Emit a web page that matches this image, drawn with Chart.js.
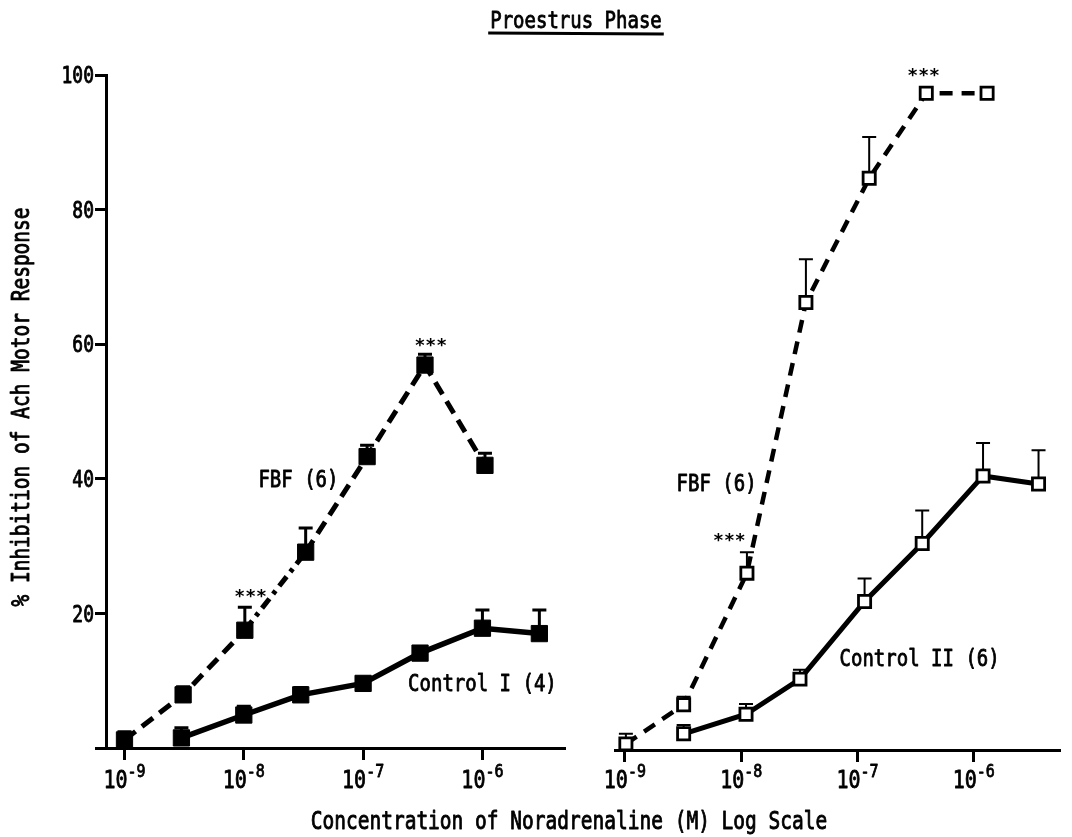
<!DOCTYPE html>
<html>
<head>
<meta charset="utf-8">
<title>Proestrus Phase</title>
<script src="https://cdn.jsdelivr.net/npm/chart.js@4.4.1/dist/chart.umd.min.js"></script>
<style>
  html, body { margin: 0; padding: 0; background: #fff; }
  #wrap { position: relative; width: 1072px; height: 837px; }
  #wrap canvas { position: absolute; left: 0; top: 0; }
</style>
</head>
<body>
<div id="wrap">
  <canvas id="left" width="1072" height="837"></canvas>
  <canvas id="right" width="1072" height="837"></canvas>
</div>
<script>
// noradrenaline concentration (M), mean % inhibition and SEM
const leftFbfConc = [1e-9, 3.1e-9, 1.02e-8, 3.3e-8, 1.08e-7, 3.3e-7, 1.05e-6];
const leftFbfMean = [1.2, 7.9, 17.5, 29.1, 43.3, 56.9, 42.0];
const leftFbfSem = [1.2, 1.2, 3.4, 3.6, 1.7, 1.6, 1.8];

const controlIConc = [3e-9, 1e-8, 3e-8, 1e-7, 3e-7, 1e-6, 3e-6];
const controlIMean = [1.5, 4.9, 7.9, 9.6, 14.1, 17.8, 17.0];
const controlISem = [1.5, 1.3, 1.1, 0.9, 0.8, 2.7, 3.5];

const rightFbfConc = [1.02e-9, 3.2e-9, 1.12e-8, 3.6e-8, 1.26e-7, 3.9e-7, 1.3e-6];
const rightFbfMean = [0.9, 6.7, 26.2, 66.3, 84.7, 97.3, 97.3];
const rightFbfSem = [1.5, 1.2, 3.1, 6.4, 6.1, 0, 0];

const controlIIConc = [3.2e-9, 1.1e-8, 3.2e-8, 1.15e-7, 3.6e-7, 1.2e-6, 3.6e-6];
const controlIIMean = [2.4, 5.3, 10.5, 22.0, 30.6, 40.6, 39.4];
const controlIISem = [1.3, 1.5, 1.4, 3.4, 4.9, 4.9, 5.0];

const xTicks = [1e-9, 1e-8, 1e-7, 1e-6];
const yTicks = [0, 20, 40, 60, 80, 100];

// curve names and significance marks, placed in data units
const leftNotes = [
  { text: 'FBF (6)', x: 2.87e-8, y: 39.8 },
  { text: 'Control I (4)', x: 1.0e-6, y: 9.5 },
  { text: '***', x: 1.14e-8, y: 23.0, bold: true },
  { text: '***', x: 3.69e-7, y: 60.3, bold: true }
];
const rightNotes = [
  { text: 'FBF (6)', x: 6.14e-9, y: 39.4 },
  { text: 'Control II (6)', x: 3.42e-7, y: 13.5 },
  { text: '***', x: 7.9e-9, y: 31.5, bold: true },
  { text: '***', x: 3.7e-7, y: 100.4, bold: true }
];

const FONT = '"DejaVu Sans Mono", monospace';

function pts(xs, ys) {
  return xs.map((x, i) => ({ x: x, y: ys[i] }));
}

// typewriter-ish lettering: narrow mono font stretched vertically, lightly inked
function tallText(ctx, text, x, y, size, opt) {
  opt = opt || {};
  const stretch = opt.stretch || 1.2;
  ctx.save();
  ctx.font = (opt.bold ? 'bold ' : '') + size + 'px ' + FONT;
  ctx.textAlign = opt.align || 'center';
  ctx.textBaseline = 'alphabetic';
  ctx.fillStyle = '#000';
  ctx.strokeStyle = '#000';
  ctx.lineWidth = 0.7;
  ctx.lineJoin = 'round';
  ctx.translate(x, y);
  if (opt.rotate) ctx.rotate(opt.rotate);
  let dy = 0;
  if (opt.middle) {
    const m = ctx.measureText(text);
    dy = (m.actualBoundingBoxAscent - m.actualBoundingBoxDescent) / 2;
  }
  ctx.scale(1, stretch);
  ctx.fillText(text, 0, dy);
  if (!opt.bold) ctx.strokeText(text, 0, dy);
  const w = ctx.measureText(text).width;
  ctx.restore();
  return w;
}

function panelPlugin(notes, barWidth, withTitles) {
  return {
    id: 'panel',
    beforeDatasetsDraw(chart) {
      const ctx = chart.ctx;
      const ys = chart.scales.y;
      ctx.save();
      ctx.strokeStyle = '#000';
      ctx.lineWidth = barWidth;
      chart.data.datasets.forEach((ds, i) => {
        const meta = chart.getDatasetMeta(i);
        meta.data.forEach((pt, j) => {
          const sem = ds.sem[j];
          if (!sem) return;
          const top = ys.getPixelForValue(ds.data[j].y + sem);
          ctx.beginPath();
          ctx.moveTo(pt.x, pt.y);
          ctx.lineTo(pt.x, top);
          ctx.moveTo(pt.x - 7, top);
          ctx.lineTo(pt.x + 7, top);
          ctx.stroke();
        });
      });
      ctx.restore();
    },
    afterDraw(chart) {
      const ctx = chart.ctx;
      const xs = chart.scales.x;
      const ys = chart.scales.y;

      // x tick labels as 10 with a raised exponent
      xTicks.forEach(v => {
        const px = xs.getPixelForValue(v);
        const exp = '-' + Math.round(-Math.log10(v));
        ctx.font = '20px ' + FONT;
        const wBase = ctx.measureText('10').width;
        ctx.font = '15px ' + FONT;
        const wExp = ctx.measureText(exp).width;
        const start = px - (wBase + wExp) / 2;
        tallText(ctx, '10', start, 788, 20, { align: 'left' });
        tallText(ctx, exp, start + wBase, 777, 15, { align: 'left' });
      });

      notes.forEach(n => {
        tallText(ctx, n.text, xs.getPixelForValue(n.x), ys.getPixelForValue(n.y),
          n.bold ? 18 : 19, { middle: true, bold: n.bold, stretch: n.bold ? 1 : 1.2 });
      });

      if (!withTitles) return;

      yTicks.forEach(v => {
        if (v === 0) return;
        tallText(ctx, String(v), chart.chartArea.left - 12, ys.getPixelForValue(v), 18,
          { align: 'right', middle: true, stretch: 1.25 });
      });

      const w = tallText(ctx, 'Proestrus Phase', 576, 19, 19, { middle: true, stretch: 1.25 });
      ctx.save();
      ctx.strokeStyle = '#000';
      ctx.lineWidth = 3;
      ctx.beginPath();
      ctx.moveTo(576 - w / 2 - 2, 33);
      ctx.lineTo(576 + w / 2 + 2, 34);
      ctx.stroke();
      ctx.restore();

      tallText(ctx, 'Concentration of Noradrenaline (M) Log Scale', 569, 829, 19.5, { stretch: 1.25 });
      tallText(ctx, '% Inhibition of Ach Motor Response', 22, 407, 19.5,
        { middle: true, rotate: -Math.PI / 2, stretch: 1.25 });
    }
  };
}

function xAxis(min, max, height) {
  return {
    type: 'logarithmic',
    min: min,
    max: max,
    afterBuildTicks: s => { s.ticks = xTicks.map(v => ({ value: v })); },
    afterFit: s => { s.height = height; },
    ticks: { display: false },
    grid: { drawOnChartArea: false, drawTicks: true, tickLength: 12, tickWidth: 3, color: '#000' },
    border: { display: true, width: 3, color: '#000' }
  };
}

const filled = {
  pointStyle: 'rect', pointRadius: 11.5, pointBorderWidth: 1,
  pointBackgroundColor: '#000', pointBorderColor: '#000',
  borderColor: '#000', showLine: true, clip: false
};
const open = {
  pointStyle: 'rect', pointRadius: 8.6, pointBorderWidth: 2.8,
  pointBackgroundColor: '#fff', pointBorderColor: '#000',
  borderColor: '#000', showLine: true, clip: false
};

const common = {
  responsive: false,
  animation: false,
  events: [],
  plugins: { legend: { display: false }, tooltip: { enabled: false } }
};

new Chart(document.getElementById('left'), {
  type: 'scatter',
  data: {
    datasets: [
      Object.assign({ data: pts(leftFbfConc, leftFbfMean), sem: leftFbfSem,
        borderWidth: 5, borderDash: [14, 8],
        // one stretch of the FBF curve is dash-dot
        segment: { borderDash: c => c.p0DataIndex === 2 ? [12, 6, 4, 6] : undefined } }, filled),
      Object.assign({ data: pts(controlIConc, controlIMean), sem: controlISem,
        borderWidth: 5.5 }, filled)
    ]
  },
  options: Object.assign({}, common, {
    layout: { padding: { top: 75, right: 507, bottom: 0, left: 0 } },
    scales: {
      x: xAxis(Math.pow(10, -9.133), Math.pow(10, -5.308), 89),
      y: {
        min: 0, max: 100,
        afterBuildTicks: s => { s.ticks = yTicks.map(v => ({ value: v })); },
        afterFit: s => { s.width = 106; },
        ticks: { display: false },
        grid: { drawOnChartArea: false, tickLength: 11, tickWidth: 3, color: '#000' },
        border: { display: true, width: 3, color: '#000' }
      }
    }
  }),
  plugins: [panelPlugin(leftNotes, 3, true)]
});

new Chart(document.getElementById('right'), {
  type: 'scatter',
  data: {
    datasets: [
      Object.assign({ data: pts(rightFbfConc, rightFbfMean), sem: rightFbfSem,
        borderWidth: 4.5, borderDash: [13, 9] }, open),
      Object.assign({ data: pts(controlIIConc, controlIIMean), sem: controlIISem,
        borderWidth: 5 }, open)
    ]
  },
  options: Object.assign({}, common, {
    layout: { padding: { top: 75, right: 5, bottom: 0, left: 615 } },
    scales: {
      x: xAxis(Math.pow(10, -9.085), Math.pow(10, -5.254), 87),
      y: { display: false, min: 0, max: 100 }
    }
  }),
  plugins: [panelPlugin(rightNotes, 2, false)]
});
</script>
</body>
</html>
